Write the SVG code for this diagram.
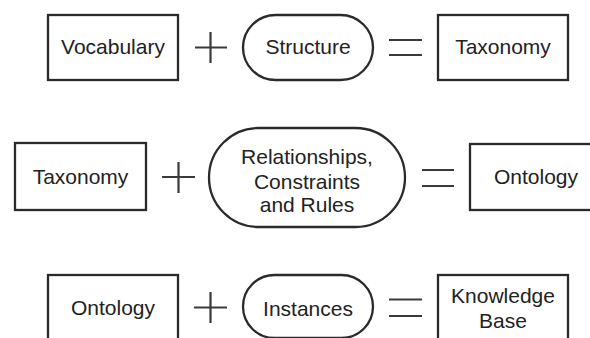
<svg xmlns="http://www.w3.org/2000/svg" width="590" height="338" viewBox="0 0 590 338">
<style>
.box{fill:#fff;stroke:#2a2a2a;stroke-width:2.3}
.op{stroke:#3a3a3a;stroke-width:2.2;fill:none}
.t{font-family:"Liberation Sans",Arial,Helvetica,sans-serif;font-size:21px;fill:#222;text-anchor:middle}
</style>
<rect width="590" height="338" fill="#fff"/>
<g id="vocabulary"><rect class="box" x="48" y="15" width="130" height="65"/><text class="t" x="113" y="54">Vocabulary</text></g>
<g id="structure"><rect class="box" x="243" y="15" width="130" height="65" rx="32.5"/><text class="t" x="308" y="54">Structure</text></g>
<g id="taxonomy1"><rect class="box" x="438" y="15" width="130" height="65"/><text class="t" x="503" y="54">Taxonomy</text></g>
<g id="taxonomy2"><rect class="box" x="15" y="143" width="131" height="67"/><text class="t" x="80.5" y="184">Taxonomy</text></g>
<g id="relationships"><rect class="box" x="209" y="128" width="196" height="99" rx="49.5"/><text class="t" x="307" y="164">Relationships,</text><text class="t" x="307" y="189">Constraints</text><text class="t" x="307" y="212">and Rules</text></g>
<g id="ontology1"><rect class="box" x="470" y="144" width="130" height="66"/><text class="t" x="536" y="184">Ontology</text></g>
<g id="ontology2"><rect class="box" x="48" y="275" width="130" height="80"/><text class="t" x="113" y="315">Ontology</text></g>
<g id="instances"><rect class="box" x="243" y="275" width="130" height="63" rx="31.5"/><text class="t" x="308" y="316">Instances</text></g>
<g id="knowledgebase"><rect class="box" x="438" y="275" width="130" height="80"/><text class="t" x="503" y="303">Knowledge</text><text class="t" x="503" y="328">Base</text></g>
<g id="connectors">
<path class="op" d="M195 47.5H227M210.5 32V63"/>
<path class="op" d="M389 40H422M389 55H422"/>
<path class="op" d="M162 177H195M178.5 162V193"/>
<path class="op" d="M422 170H454M422 186H454"/>
<path class="op" d="M194 307.5H227M210.5 292V323"/>
<path class="op" d="M389 299.5H422M389 316H422"/>
</g>
</svg>
